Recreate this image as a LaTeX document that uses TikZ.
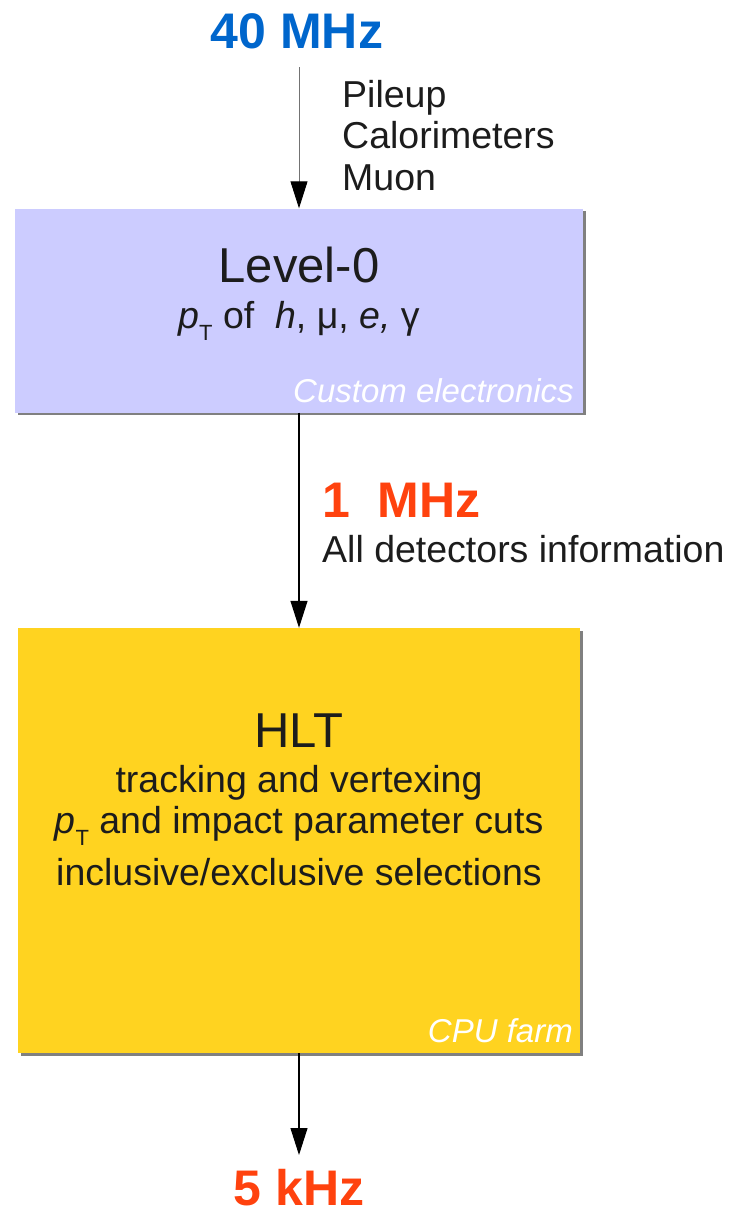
\documentclass[tikz,border=0pt]{standalone}
\usepackage{fontspec}
\setmainfont{Liberation Sans}
\usetikzlibrary{arrows.meta,shadows}
\definecolor{rateblue}{HTML}{0066CC}
\definecolor{rateorange}{HTML}{FF420E}
\definecolor{lzfill}{HTML}{CCCCFF}
\definecolor{hltfill}{HTML}{FFD320}
\definecolor{ink}{HTML}{1C1C1C}
\newcommand{\setfs}[1]{\fontsize{#1}{#1}\selectfont}
\newcommand{\pT}{\textit{p}\raisebox{-0.32em}{\setfs{22}T}}
\begin{document}
\begin{tikzpicture}[x=1pt,y=-1pt,
  rate/.style={font=\setfs{50}\bfseries, inner sep=0, anchor=base},
  note/.style={font=\setfs{37.5}, text=ink, inner sep=0},
  title/.style={font=\setfs{49}, text=ink, inner sep=0, anchor=base},
  stage/.style={inner sep=0, draw=none,
    drop shadow={shadow xshift=2.5pt, shadow yshift=-2.5pt, fill=black!50, opacity=1}},
  tag/.style={font=\setfs{33}\itshape, text=white, inner sep=0, anchor=base east},
  flow/.style={-{Triangle[length=27pt,width=17pt,black]}, line width=1.1pt}
]
\useasboundingbox (0,0) rectangle (732,1210);

% input rate and the Level-0 inputs
\node[rate, text=rateblue] (in) at (297,48) {40 MHz};
\coordinate (inflow) at (299,67);
\node[note, anchor=base west] (pile) at (342,107) {Pileup};
\node[note, anchor=base west] (calo) at (342,148) {Calorimeters};
\node[note, anchor=base west] (muon) at (342,190) {Muon};

% Level-0 stage
\node[stage, fill=lzfill, minimum width=568pt, minimum height=204pt] (l0) at (299,310.5) {};
\node[title] (l0name) at (299,282) {Level-0};
\node[note, anchor=base] (l0what) at (299,328) {\pT{} of\ \ \textit{h}, μ, \textit{e,} γ};
\node[tag] (l0tag) at (574,402) {Custom electronics};

% rate after Level-0
\node[rate, text=rateorange, anchor=base west] (mid) at (322,517) {1\ \ MHz};
\node[note, anchor=base west] (all) at (322,562) {All detectors information};

% HLT stage
\node[stage, fill=hltfill, minimum width=562pt, minimum height=425pt] (hlt) at (299,840.5) {};
\node[title] (hltname) at (299,747) {HLT};
\node[note, anchor=base] (h1) at (299,792) {tracking and vertexing};
\node[note, anchor=base] (h2) at (299,833) {\pT{} and impact parameter cuts};
\node[note, anchor=base] (h3) at (299,885) {inclusive/exclusive selections};
\node[tag] (hlttag) at (573,1042) {CPU farm};

% output rate
\node[rate, text=rateorange] (out) at (299,1205) {5 kHz};
\coordinate (outflow) at (299,1155);

% data flow
\draw[flow, draw=black!55, line width=0.9pt] (inflow) -- (l0.north -| inflow);
\draw[flow] (l0.south) -- (hlt.north);
\draw[flow] (hlt.south) -- (outflow);
\end{tikzpicture}
\end{document}
